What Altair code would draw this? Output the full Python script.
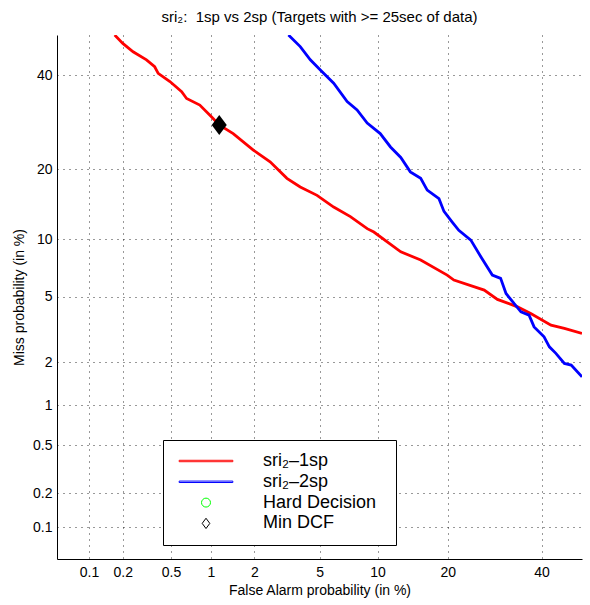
import altair as alt
import pandas as pd
from statistics import NormalDist

nd = NormalDist()

# ---------------- data (percent values) ----------------
title_text = "sri\u2082:\u00a0 1sp vs 2sp (Targets with >= 25sec of data)"
x_title = "False Alarm probability (in %)"
y_title = "Miss probability (in %)"

series_names = ["sri\u2082\u20131sp", "sri\u2082\u20132sp", "Hard Decision", "Min DCF"]
series_colors = ["#ff0000", "#0000ff", "#00ff00", "#000000"]

tick_pct = [0.1, 0.2, 0.5, 1, 2, 5, 10, 20, 40]
axis_min_pct = 0.05
axis_max_pct = 50

red_fa = [0.17, 0.20, 0.245, 0.317, 0.37, 0.395, 0.49, 0.605, 0.66, 0.83, 1.01,
          1.15, 1.44, 1.97, 2.53, 3.22, 3.87, 4.84, 5.98, 7.33, 8.91, 9.6, 12.8,
          15.6, 19.9, 21.1, 27.0, 29.8, 34.3, 37.4, 42.3, 45.6, 50.0]
red_miss = [50.0, 47.9, 45.8, 43.8, 42.1, 40.5, 38.5, 36.1, 34.5, 33.0, 30.4,
            28.6, 26.8, 23.5, 21.3, 18.4, 17.0, 15.7, 14.0, 12.7, 11.2, 10.8, 8.67,
            7.88, 6.58, 6.19, 5.46, 4.84, 4.39, 4.02, 3.42, 3.27, 3.05]

blue_fa = [3.29, 3.87, 4.43, 5.05, 5.98, 7.05, 7.93, 8.91, 10.3, 11.5, 12.8,
           14.1, 15.6, 16.6, 18.5, 19.35, 20.8, 22.0, 24.3, 26.3, 28.7, 30.5,
           31.7, 33.5, 35.1, 37.0, 38.2, 40.6, 41.9, 43.5, 45.6, 47.3, 50.0]
blue_miss = [50.0, 47.1, 43.8, 41.3, 38.1, 33.8, 31.9, 29.0, 26.8, 24.1, 22.1,
             19.5, 18.4, 16.5, 15.2, 13.4, 12.0, 11.0, 9.89, 8.19, 6.58, 6.32,
             5.23, 4.59, 4.11, 3.93, 3.34, 2.90, 2.51, 2.28, 1.96, 1.91, 1.59]

mindcf_fa = [1.15]
mindcf_miss = [28.6]

# ---------------- tables ----------------
rows = []
for name, fa, miss in [(series_names[0], red_fa, red_miss),
                       (series_names[1], blue_fa, blue_miss)]:
    for i, (f, m) in enumerate(zip(fa, miss)):
        rows.append({"series": name, "fa": f, "miss": m, "idx": i})
lines_df = pd.DataFrame(rows)
dcf_df = pd.DataFrame({"series": [series_names[3]] * len(mindcf_fa),
                       "fa": mindcf_fa, "miss": mindcf_miss})

FONT = "Liberation Sans"
dom = [nd.inv_cdf(axis_min_pct / 100), nd.inv_cdf(axis_max_pct / 100)]
tick_vals = [nd.inv_cdf(p / 100) for p in tick_pct]
label_expr = "format(cumulativeNormal(datum.value) * 100, '.2~g')"

# legend glyphs: thin outlined bar (reads as a thick line), circle, open diamond
line_path = "M-6,-0.16L6,-0.16L6,0.16L-6,0.16Z"
diamond_small = "M-0.85,0L0,-1.15L0.85,0L0,1.15Z"
diamond_big = "M-0.75,0L0,-1L0.75,0L0,1Z"

x_enc = alt.X("px:Q", scale=alt.Scale(domain=dom, nice=False, zero=False),
              axis=alt.Axis(values=tick_vals, labelExpr=label_expr, title=x_title,
                            grid=True, ticks=False, labelPadding=6, titlePadding=4,
                            labelFlush=False))
y_enc = alt.Y("py:Q", scale=alt.Scale(domain=dom, nice=False, zero=False),
              axis=alt.Axis(values=tick_vals, labelExpr=label_expr, title=y_title,
                            grid=True, ticks=False, labelPadding=5, titlePadding=6,
                            labelFlush=False))

color_enc = alt.Color("series:N",
                      scale=alt.Scale(domain=series_names, range=series_colors),
                      legend=alt.Legend(orient="none", legendX=106, legendY=405,
                                        title=" ", titleOrient="right", titleFontSize=10,
                                        titlePadding=8,
                                        labelFontSize=18, labelFont=FONT,
                                        labelColor="black", labelLimit=300,
                                        strokeColor="black", fillColor="white",
                                        padding=12, rowPadding=2.8, labelOffset=48,
                                        symbolOffset=22, symbolSize=80,
                                        symbolStrokeWidth=1))
shape_enc = alt.Shape("series:N",
                      scale=alt.Scale(domain=series_names,
                                      range=[line_path, line_path, "circle", diamond_small]))

calc = dict(px="quantileNormal(datum.fa / 100)", py="quantileNormal(datum.miss / 100)")

lines = alt.Chart(lines_df).transform_calculate(**calc).mark_line(
    clip=True, strokeWidth=2.8).encode(
    x=x_enc, y=y_enc, color=color_enc, order="idx:Q")

legend_pts = alt.Chart(dcf_df).transform_calculate(**calc).mark_point(
    filled=False, size=80, opacity=1, strokeWidth=1).encode(
    x="px:Q", y="py:Q", color=color_enc, shape=shape_enc)

dcf = alt.Chart(dcf_df).transform_calculate(**calc).mark_point(
    shape=diamond_big, filled=True, size=400, color="black", opacity=1).encode(
    x="px:Q", y="py:Q")

chart = alt.layer(lines, legend_pts, dcf).properties(
    width=525, height=524,
    background="white",
    title=alt.TitleParams(title_text, fontSize=15, font=FONT, fontWeight="normal",
                          color="black", anchor="middle", offset=10),
    autosize=alt.AutoSizeParams(type="none"),
    padding={"left": 57, "top": 35, "right": 8, "bottom": 46},
).configure_view(stroke=None).configure_axis(
    labelFont=FONT, titleFont=FONT, labelFontSize=14, titleFontSize=14,
    labelColor="black", titleColor="black", titleFontWeight="normal",
    domainColor="black", domainWidth=1,
    gridColor="#000000", gridDash=[1, 5], gridWidth=1, gridOpacity=0.8,
)

chart.save("out.html", embed_options={"renderer": "svg", "actions": False})
